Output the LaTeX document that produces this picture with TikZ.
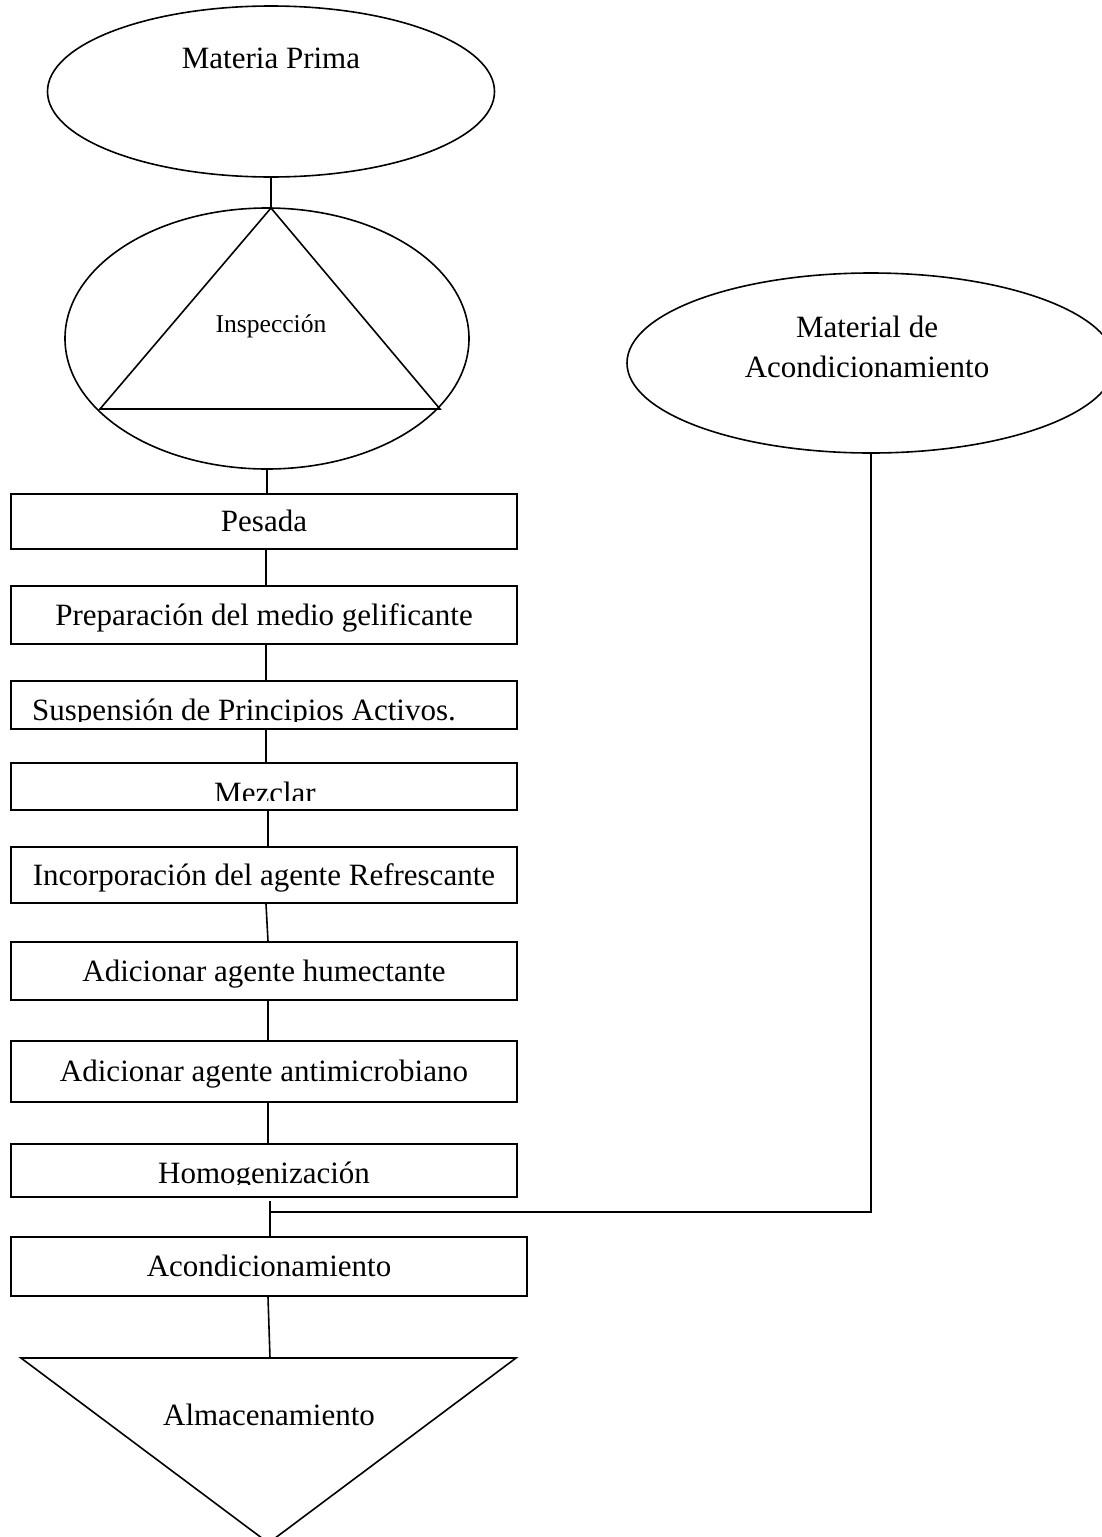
\documentclass[tikz,border=0pt]{standalone}
\usepackage{fontspec}
\setmainfont{Liberation Serif}
\usetikzlibrary{shapes.geometric,calc}
\newcommand\mainsz{\fontsize{31}{37}\selectfont}
\newcommand\smallsz{\fontsize{25.6}{30}\selectfont}
\tikzset{
  conn/.style={line width=1.6pt},
  stepbox/.style={draw, line width=1.8pt, inner sep=0pt, minimum width=506pt,
                  text height=20.5pt, text depth=0pt, font=\mainsz},
  oval/.style={draw, ellipse, line width=1.6pt, inner sep=0pt},
  txt/.style={inner sep=0pt, font=\mainsz},
}
\begin{document}
\begin{tikzpicture}[x=1pt,y=-1pt]
\useasboundingbox (0,0) rectangle (1102,1537);

% --- top ovals
\node[oval, minimum width=447pt, minimum height=171pt] (mp) at (271,91.5) {};
\node[txt, anchor=base] (mptxt) at (271,68) {Materia Prima};

\node[oval, minimum width=404pt, minimum height=261pt] (insp) at (267,338.5) {};
\coordinate (tA) at (271,208);
\coordinate (tL) at (100,409);
\coordinate (tR) at (440,409);
\draw[conn, line join=miter] (tA) -- (tL) -- (tR) -- cycle;
\node[txt, font=\smallsz, anchor=base] (insptxt) at (271,332) {Inspección};

\node[oval, minimum width=488pt, minimum height=180pt] (mda) at (871,363) {};
\node[txt, anchor=base] (mdatxt1) at (867,337) {Material de};
\node[txt, anchor=base] (mdatxt2) at (867,377) {Acondicionamiento};

% --- process boxes
\node[stepbox, minimum height=55pt] (pesada) at (264,521.5) {Pesada};
\node[stepbox, minimum height=58pt] (prep) at (264,615) {Preparación del medio gelificante};
\node[stepbox, minimum height=48pt] (susp) at (264,705) {};
\begin{scope}
  \clip (11,681) rectangle (517,721);
  \node[txt, anchor=base west] (susptxt) at (32,720) {Suspensión de Principios Activos.};
\end{scope}
\node[stepbox, minimum height=47pt] (mez) at (264,786.5) {};
\begin{scope}
  \clip (11,763) rectangle (517,800);
  \node[txt, anchor=base] (meztxt) at (265,803) {Mezclar};
\end{scope}
\node[stepbox, minimum height=56pt] (incorp) at (264,875) {Incorporación del agente Refrescante};
\node[stepbox, minimum height=58pt] (hum) at (264,971) {Adicionar agente humectante};
\node[stepbox, minimum height=61pt] (anti) at (264,1071.5) {Adicionar agente antimicrobiano};
\node[stepbox, minimum height=53pt] (homog) at (264,1170.5) {};
\begin{scope}
  \clip (11,1144) rectangle (517,1184);
  \node[txt, anchor=base] (homogtxt) at (264,1183) {Homogenización};
\end{scope}
\node[stepbox, minimum height=59pt, minimum width=516pt] (acond) at (269,1266.5) {Acondicionamiento};

% --- storage triangle
\coordinate (bL) at (21,1358);
\coordinate (bR) at (516,1358);
\coordinate (bA) at (268.5,1543);
\coordinate (tB) at (270,1358);
\draw[conn, line join=miter] (bL) -- (bR) -- (bA) -- cycle;
\node[txt, anchor=base] (almtxt) at (269,1425) {Almacenamiento};

% --- connectors
\coordinate (j) at (270,1212);
\draw[conn] (mp.south) -- (tA);
\draw[conn] (insp.south) -- (insp.south |- pesada.north);
\draw[conn] ([xshift=2pt]pesada.south) -- ([xshift=2pt]prep.north);
\draw[conn] ([xshift=2pt]prep.south) -- ([xshift=2pt]susp.north);
\draw[conn] ([xshift=2pt]susp.south) -- ([xshift=2pt]mez.north);
\draw[conn] ([xshift=4pt]mez.south) -- ([xshift=4pt]incorp.north);
\draw[conn] ([xshift=2pt]incorp.south) -- ([xshift=4pt]hum.north);
\draw[conn] ([xshift=4pt]hum.south) -- ([xshift=4pt]anti.north);
\draw[conn] ([xshift=4pt]anti.south) -- ([xshift=4pt]homog.north);
\draw[conn] ([yshift=-3pt]j |- homog.south) -- (j |- acond.north);
\draw[conn] (mda.south) |- (j);
\draw[conn] ([xshift=-1pt]acond.south) -- (tB);
\end{tikzpicture}
\end{document}
